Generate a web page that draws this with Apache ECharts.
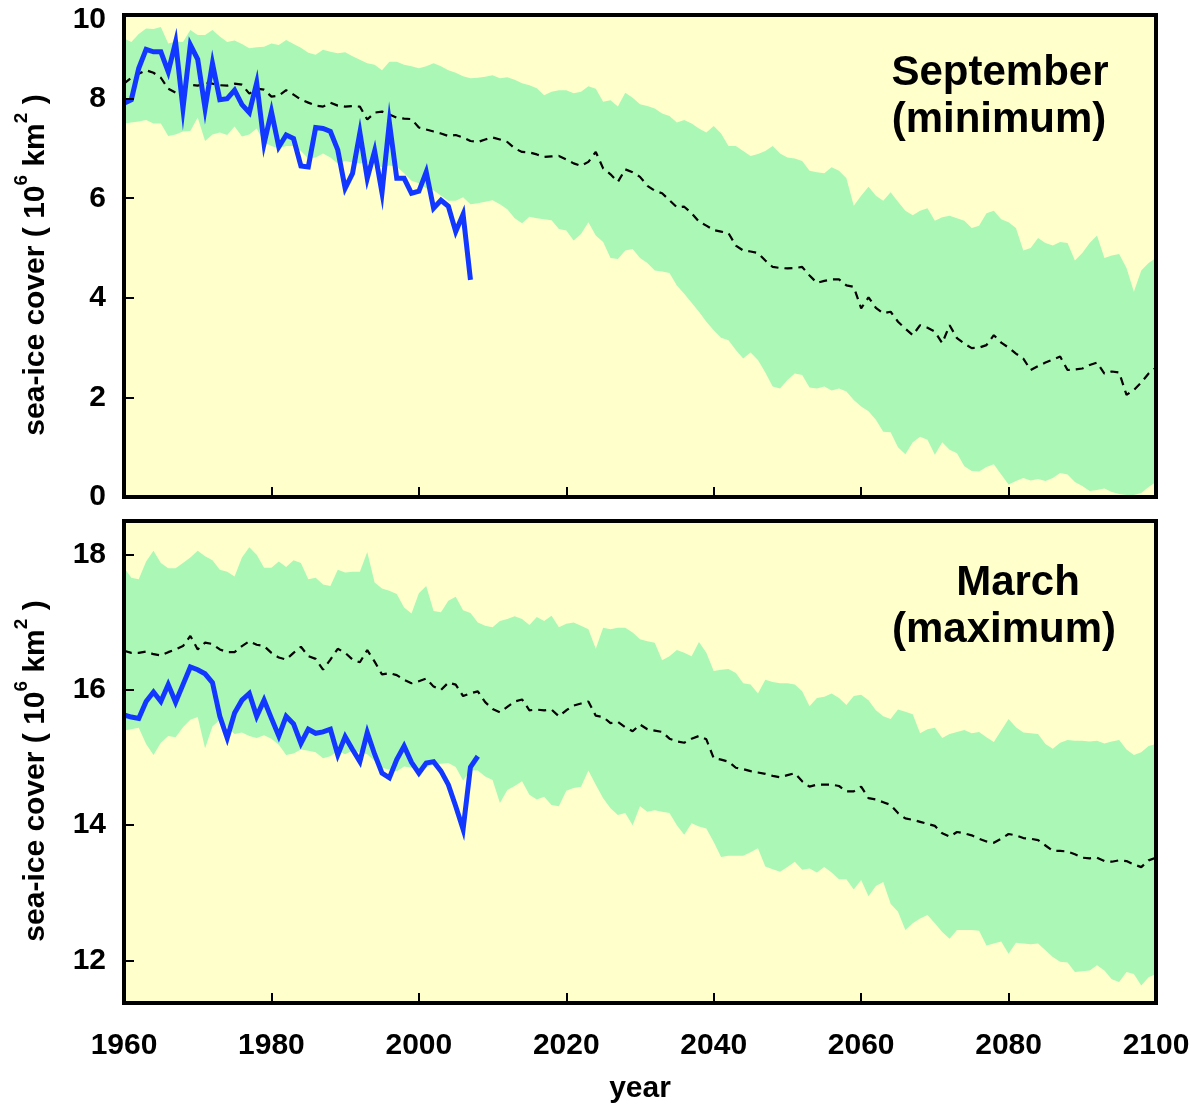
<!DOCTYPE html>
<html>
<head>
<meta charset="utf-8">
<script src="https://cdn.jsdelivr.net/npm/echarts@6/dist/echarts.min.js"></script>
<style>
  html, body { margin: 0; padding: 0; background: #fff; }
  #chart { width: 1190px; height: 1105px; }
</style>
</head>
<body>
<div id="chart"></div>
<script>
// years
const modelYears = Array.from({ length: 141 }, (_, i) => 1960 + i);
const obsYearsSep = Array.from({ length: 48 }, (_, i) => 1960 + i);
const obsYearsMar = Array.from({ length: 49 }, (_, i) => 1960 + i);

// September (minimum), 10^6 km2
const septObserved = [
  7.91, 7.98, 8.61, 8.99, 8.94, 8.94, 8.54, 9.14, 7.80, 9.08,
  8.79, 7.80, 8.71, 7.98, 8.00, 8.17, 7.88, 7.72, 8.32, 7.10,
  7.74, 7.03, 7.27, 7.20, 6.65, 6.63, 7.42, 7.40, 7.34, 6.97,
  6.20, 6.50, 7.32, 6.40, 6.95, 6.11, 7.52, 6.40, 6.40, 6.10,
  6.14, 6.53, 5.80, 5.96, 5.84, 5.33, 5.68, 4.36
];
const septMean = [
  8.30, 8.42, 8.50, 8.57, 8.52, 8.42, 8.20, 8.12, 8.22, 8.28,
  8.26, 8.32, 8.30, 8.27, 8.26, 8.30, 8.28, 8.10, 8.20, 8.18,
  8.04, 8.06, 8.17, 8.08, 7.98, 7.92, 7.86, 7.84, 7.92, 7.86,
  7.84, 7.85, 7.84, 7.58, 7.72, 7.74, 7.68, 7.62, 7.60, 7.59,
  7.42, 7.38, 7.34, 7.30, 7.25, 7.27, 7.22, 7.15, 7.13, 7.18,
  7.22, 7.18, 7.13, 7.00, 6.93, 6.92, 6.88, 6.83, 6.84, 6.85,
  6.78, 6.70, 6.65, 6.73, 6.93, 6.60, 6.48, 6.33, 6.58, 6.52,
  6.43, 6.25, 6.15, 6.10, 5.96, 5.82, 5.83, 5.70, 5.53, 5.45,
  5.36, 5.33, 5.30, 5.05, 4.95, 4.93, 4.90, 4.75, 4.62, 4.60,
  4.59, 4.60, 4.62, 4.45, 4.30, 4.34, 4.37, 4.37, 4.25, 4.22,
  3.79, 4.01, 3.80, 3.69, 3.72, 3.52, 3.38, 3.25, 3.45, 3.40,
  3.32, 3.09, 3.45, 3.19, 3.08, 2.99, 3.00, 3.05, 3.25, 3.10,
  3.00, 2.88, 2.78, 2.55, 2.63, 2.70, 2.76, 2.82, 2.55, 2.56,
  2.58, 2.65, 2.70, 2.48, 2.52, 2.50, 2.05, 2.15, 2.30, 2.48,
  2.60
];
const septHigh = [
  9.21, 9.14, 9.30, 9.41, 9.40, 9.44, 9.11, 9.15, 9.14, 9.38,
  9.28, 9.28, 9.38, 9.25, 9.14, 9.17, 9.10, 9.01, 9.03, 9.04,
  9.11, 9.08, 9.18, 9.10, 9.02, 8.92, 8.88, 8.98, 8.94, 8.91,
  8.93, 8.85, 8.78, 8.71, 8.68, 8.57, 8.74, 8.74, 8.68, 8.65,
  8.61, 8.65, 8.71, 8.65, 8.57, 8.52, 8.45, 8.41, 8.42, 8.44,
  8.47, 8.41, 8.43, 8.38, 8.31, 8.27, 8.21, 8.07, 8.14, 8.17,
  8.17, 8.11, 8.14, 8.25, 8.20, 7.94, 7.97, 7.84, 8.12, 8.02,
  7.89, 7.85, 7.80, 7.70, 7.65, 7.52, 7.57, 7.50, 7.40, 7.32,
  7.45, 7.30, 7.05, 7.05, 6.95, 6.85, 6.89, 6.95, 7.05, 6.90,
  6.82, 6.80, 6.75, 6.55, 6.52, 6.50, 6.62, 6.55, 6.40, 5.85,
  6.05, 6.23, 6.05, 5.95, 6.12, 5.93, 5.75, 5.66, 5.75, 5.80,
  5.55, 5.62, 5.65, 5.60, 5.55, 5.40, 5.45, 5.70, 5.75, 5.58,
  5.52, 5.40, 4.95, 5.00, 5.20, 5.10, 5.05, 5.12, 5.10, 4.75,
  4.90, 5.10, 5.25, 4.80, 4.85, 4.88, 4.60, 4.12, 4.55, 4.70,
  4.80
];
const septLow = [
  7.50, 7.52, 7.54, 7.57, 7.50, 7.50, 7.25, 7.28, 7.34, 7.35,
  7.62, 7.15, 7.28, 7.32, 7.27, 7.44, 7.24, 7.28, 7.40, 7.12,
  7.05, 7.00, 7.05, 7.05, 6.95, 6.80, 6.82, 6.90, 6.82, 6.70,
  6.75, 6.72, 6.70, 6.72, 6.68, 6.62, 6.66, 6.63, 6.50, 6.35,
  6.30, 6.20, 6.16, 6.05, 5.95, 5.95, 6.02, 5.88, 5.90, 5.93,
  5.96, 5.88, 5.78, 5.60, 5.50, 5.63, 5.60, 5.58, 5.56, 5.38,
  5.35, 5.15, 5.28, 5.52, 5.25, 5.12, 4.80, 4.78, 4.95, 4.98,
  4.80, 4.70, 4.55, 4.53, 4.50, 4.25, 4.08, 3.90, 3.72, 3.52,
  3.35, 3.20, 3.15, 2.95, 2.78, 2.90, 2.75, 2.50, 2.22, 2.18,
  2.35, 2.48, 2.45, 2.20, 2.18, 2.22, 2.14, 2.18, 2.12, 1.95,
  1.82, 1.72, 1.55, 1.31, 1.30, 1.00, 0.86, 1.10, 1.21, 1.15,
  0.85, 1.10, 0.95, 0.88, 0.62, 0.52, 0.51, 0.60, 0.66, 0.45,
  0.25, 0.32, 0.38, 0.33, 0.36, 0.32, 0.38, 0.48, 0.45, 0.30,
  0.22, 0.12, 0.14, 0.17, 0.10, 0.06, 0.04, 0.04, 0.08, 0.20,
  0.30
];

// March (maximum), 10^6 km2
const marObserved = [
  15.63, 15.60, 15.58, 15.83, 15.97, 15.83, 16.08, 15.82, 16.08, 16.34,
  16.30, 16.24, 16.11, 15.61, 15.29, 15.66, 15.85, 15.95, 15.61, 15.85,
  15.58, 15.32, 15.61, 15.50, 15.21, 15.42, 15.36, 15.38, 15.42, 15.04,
  15.31, 15.12, 14.94, 15.37, 15.05, 14.77, 14.70, 14.97, 15.17, 14.93,
  14.77, 14.92, 14.94, 14.80, 14.60, 14.28, 13.94, 14.86, 15.02
];
const marMean = [
  16.58, 16.55, 16.55, 16.57, 16.53, 16.51, 16.56, 16.60, 16.65, 16.80,
  16.60, 16.70, 16.68, 16.60, 16.56, 16.56, 16.65, 16.72, 16.67, 16.65,
  16.55, 16.48, 16.45, 16.55, 16.64, 16.50, 16.46, 16.30, 16.45, 16.61,
  16.55, 16.45, 16.41, 16.59, 16.42, 16.23, 16.25, 16.22, 16.15, 16.10,
  16.13, 16.17, 16.05, 16.00, 16.11, 16.08, 15.91, 15.95, 15.98, 15.82,
  15.72, 15.67, 15.75, 15.83, 15.86, 15.70, 15.71, 15.70, 15.71, 15.61,
  15.70, 15.77, 15.80, 15.83, 15.62, 15.60, 15.51, 15.53, 15.45, 15.39,
  15.49, 15.42, 15.40, 15.38, 15.28, 15.24, 15.22, 15.28, 15.32, 15.27,
  14.99, 14.97, 14.94, 14.85, 14.83, 14.80, 14.78, 14.76, 14.73, 14.71,
  14.74, 14.77, 14.65, 14.57, 14.60, 14.60, 14.60, 14.58, 14.50, 14.50,
  14.57, 14.40, 14.38, 14.34, 14.30, 14.18, 14.10, 14.08, 14.05, 14.02,
  13.99, 13.88, 13.83, 13.90, 13.88, 13.85, 13.80, 13.76, 13.74, 13.80,
  13.87, 13.85, 13.81, 13.80, 13.78, 13.70, 13.62, 13.62, 13.61, 13.57,
  13.52, 13.51, 13.52, 13.47, 13.46, 13.48, 13.47, 13.42, 13.38, 13.48,
  13.52
];
const marHigh = [
  17.81, 17.66, 17.64, 17.90, 18.06, 17.88, 17.80, 17.80, 17.88, 17.96,
  18.06, 17.98, 17.92, 17.78, 17.75, 17.68, 17.96, 18.11, 18.00, 17.81,
  17.81, 17.90, 17.82, 17.92, 17.88, 17.64, 17.66, 17.56, 17.54, 17.78,
  17.74, 17.75, 17.75, 18.04, 17.59, 17.50, 17.47, 17.42, 17.22, 17.13,
  17.43, 17.54, 17.17, 17.15, 17.32, 17.38, 17.18, 17.14, 17.00, 16.95,
  16.93, 17.02, 17.05, 17.09, 17.05, 16.96, 17.08, 17.02, 17.10, 16.93,
  16.98, 17.00, 16.95, 16.90, 16.61, 16.92, 16.90, 16.92, 16.92, 16.85,
  16.75, 16.72, 16.70, 16.44, 16.50, 16.59, 16.55, 16.50, 16.71, 16.55,
  16.28, 16.30, 16.31, 16.25, 16.10, 16.08, 15.95, 16.15, 16.12, 16.10,
  16.10, 16.08, 15.98, 15.76, 15.88, 15.90, 15.95, 15.88, 15.78, 15.91,
  15.93, 15.85, 15.70, 15.61, 15.57, 15.71, 15.68, 15.64, 15.36, 15.42,
  15.44, 15.29, 15.35, 15.38, 15.41, 15.36, 15.38, 15.30, 15.23, 15.40,
  15.57, 15.45, 15.37, 15.36, 15.35, 15.20, 15.13, 15.22, 15.26, 15.25,
  15.25, 15.24, 15.25, 15.21, 15.24, 15.26, 15.12, 15.04, 15.08, 15.17,
  15.20
];
const marLow = [
  15.40, 15.42, 15.44, 15.20, 15.04, 15.22, 15.32, 15.30, 15.45, 15.56,
  15.60, 15.14, 15.46, 15.56, 15.45, 15.35, 15.37, 15.32, 15.29, 15.33,
  15.28, 15.19, 15.04, 15.06, 15.12, 15.10, 15.08, 14.99, 15.02, 15.10,
  15.05, 15.10, 15.08, 15.05, 14.95, 14.85, 14.82, 14.80, 14.87, 14.85,
  14.81, 14.85, 14.90, 14.91, 14.92, 14.86, 14.66, 14.81, 14.81, 14.72,
  14.67, 14.33, 14.52, 14.58, 14.65, 14.45, 14.38, 14.42, 14.30, 14.28,
  14.51, 14.55, 14.57, 14.81, 14.60, 14.40, 14.25, 14.15, 14.18, 14.00,
  14.28, 14.20, 14.22, 14.20, 14.18, 14.00, 13.86, 14.03, 13.98, 13.95,
  13.75, 13.53, 13.55, 13.55, 13.55, 13.60, 13.66, 13.39, 13.35, 13.31,
  13.38, 13.46, 13.34, 13.36, 13.30, 13.38, 13.30, 13.20, 13.20, 13.05,
  13.19, 12.95, 13.10, 13.16, 12.84, 12.72, 12.45, 12.55, 12.62, 12.67,
  12.55, 12.42, 12.32, 12.45, 12.45, 12.45, 12.44, 12.22, 12.25, 12.28,
  12.10, 12.26, 12.25, 12.24, 12.25, 12.15, 12.05, 11.98, 11.97, 11.83,
  11.84, 11.85, 11.93, 11.85, 11.72, 11.68, 11.83, 11.80, 11.63, 11.75,
  11.80
];

// axis ticks
const yearTicks = [1960, 1980, 2000, 2020, 2040, 2060, 2080, 2100];
const sepTicks = [0, 2, 4, 6, 8];
const marTicks = [12, 14, 16, 18];
const sepTopLabel = '10';     // printed at the top edge of the upper panel
const sepTopLabelAt = 9.58;

const SEP_MIN = 0, SEP_MAX = 9.68;
const MAR_MIN = 11.37, MAR_MAX = 18.5;

const FONT = 'Liberation Sans, Arial, Helvetica, sans-serif';
const BG = '#ffffcc';
const GREEN = '#abf8b6';
const BLUE = '#1238ff';

const pairs = (xs, ys) => xs.map((x, i) => [x, ys[i]]);

const frameLine = { show: true, onZero: false, lineStyle: { color: '#000', width: 4, cap: 'square' } };
const innerTicks = vals => ({ show: true, inside: true, length: 10, customValues: vals, lineStyle: { color: '#000', width: 2 } });
const labelStyle = { fontFamily: FONT, fontWeight: 'bold', fontSize: 30, color: '#000' };

const yName = 'sea-ice cover ( 10{s|6} km{s|2} )';
const yNameStyle = {
  fontFamily: FONT, fontWeight: 'bold', fontSize: 30, color: '#000', padding: [0, 18, 0, 0],
  rich: { s: { fontFamily: FONT, fontWeight: 'bold', fontSize: 19, color: '#000', padding: [0, 0, 28, 0] } }
};

function frameAxis(gridIndex, position, min, max) {
  return {
    type: 'value', gridIndex: gridIndex, position: position, min: min, max: max, z: 10,
    axisLine: frameLine, axisTick: { show: false }, axisLabel: { show: false }, splitLine: { show: false }
  };
}

// the spread: green down from the upper edge, then background colour down from the lower edge
function bandSeries(xi, lo, hi) {
  return [
    {
      type: 'line', xAxisIndex: xi, yAxisIndex: xi, symbol: 'none', silent: true,
      lineStyle: { width: 0 }, areaStyle: { color: GREEN, opacity: 1, origin: 'start' },
      data: pairs(modelYears, hi), z: 1
    },
    {
      type: 'line', xAxisIndex: xi, yAxisIndex: xi, symbol: 'none', silent: true,
      lineStyle: { width: 0 }, areaStyle: { color: BG, opacity: 1, origin: 'start' },
      data: pairs(modelYears, lo), z: 2
    }
  ];
}

function meanSeries(xi, vals) {
  return {
    type: 'line', xAxisIndex: xi, yAxisIndex: xi, symbol: 'none', silent: true,
    lineStyle: { color: '#000', width: 2.2, type: [8, 6] }, data: pairs(modelYears, vals), z: 3
  };
}

function obsSeries(xi, xs, vals) {
  return {
    type: 'line', xAxisIndex: xi, yAxisIndex: xi, symbol: 'none', silent: true,
    lineStyle: { color: BLUE, width: 5, join: 'miter' }, data: pairs(xs, vals), z: 4
  };
}

const titleStyle = { fontFamily: FONT, fontWeight: 'bold', fontSize: 42, color: '#000' };

const chart = echarts.init(document.getElementById('chart'), null, { renderer: 'canvas' });

chart.setOption({
  animation: false,
  backgroundColor: '#fff',
  title: [
    { text: 'September', left: 995, top: 47, textAlign: 'center', textStyle: titleStyle },
    { text: '(minimum)', left: 994, top: 94, textAlign: 'center', textStyle: titleStyle },
    { text: 'March', left: 1013, top: 557, textAlign: 'center', textStyle: titleStyle },
    { text: '(maximum)', left: 999, top: 604, textAlign: 'center', textStyle: titleStyle }
  ],
  grid: [
    { left: 124, top: 15, width: 1032, height: 482, show: true, backgroundColor: BG, borderWidth: 0,
      containLabel: false, outerBoundsMode: 'none' },
    { left: 124, top: 521, width: 1032, height: 482, show: true, backgroundColor: BG, borderWidth: 0,
      containLabel: false, outerBoundsMode: 'none' }
  ],
  xAxis: [
    {
      type: 'value', gridIndex: 0, position: 'bottom', min: 1960, max: 2100, interval: 20, z: 10,
      axisLine: frameLine, axisTick: innerTicks(yearTicks.slice(1, -1)),
      axisLabel: { show: false }, splitLine: { show: false }
    },
    {
      type: 'value', gridIndex: 1, position: 'bottom', min: 1960, max: 2100, interval: 20, z: 10,
      axisLine: frameLine, axisTick: innerTicks(yearTicks.slice(1, -1)),
      axisLabel: Object.assign({ customValues: yearTicks, margin: 28, formatter: v => String(v) }, labelStyle),
      splitLine: { show: false },
      name: 'year', nameLocation: 'middle', nameGap: 71,
      nameTextStyle: { fontFamily: FONT, fontWeight: 'bold', fontSize: 30, color: '#000' }
    },
    frameAxis(0, 'top', 1960, 2100),
    frameAxis(1, 'top', 1960, 2100)
  ],
  yAxis: [
    {
      type: 'value', gridIndex: 0, position: 'left', min: SEP_MIN, max: SEP_MAX, z: 10,
      axisLine: frameLine, axisTick: innerTicks(sepTicks.slice(1)),
      axisLabel: Object.assign({
        customValues: sepTicks.concat([sepTopLabelAt]), margin: 18,
        formatter: v => (v === sepTopLabelAt ? sepTopLabel : String(v))
      }, labelStyle),
      splitLine: { show: false },
      name: yName, nameLocation: 'middle', nameRotate: 90, nameGap: 65, nameTextStyle: yNameStyle
    },
    {
      type: 'value', gridIndex: 1, position: 'left', min: MAR_MIN, max: MAR_MAX, z: 10,
      axisLine: frameLine, axisTick: innerTicks(marTicks),
      axisLabel: Object.assign({ customValues: marTicks, margin: 18 }, labelStyle),
      splitLine: { show: false },
      name: yName, nameLocation: 'middle', nameRotate: 90, nameGap: 65, nameTextStyle: yNameStyle
    },
    frameAxis(0, 'right', SEP_MIN, SEP_MAX),
    frameAxis(1, 'right', MAR_MIN, MAR_MAX)
  ],
  series: [].concat(
    bandSeries(0, septLow, septHigh),
    [meanSeries(0, septMean), obsSeries(0, obsYearsSep, septObserved)],
    bandSeries(1, marLow, marHigh),
    [meanSeries(1, marMean), obsSeries(1, obsYearsMar, marObserved)]
  )
});
</script>
</body>
</html>
